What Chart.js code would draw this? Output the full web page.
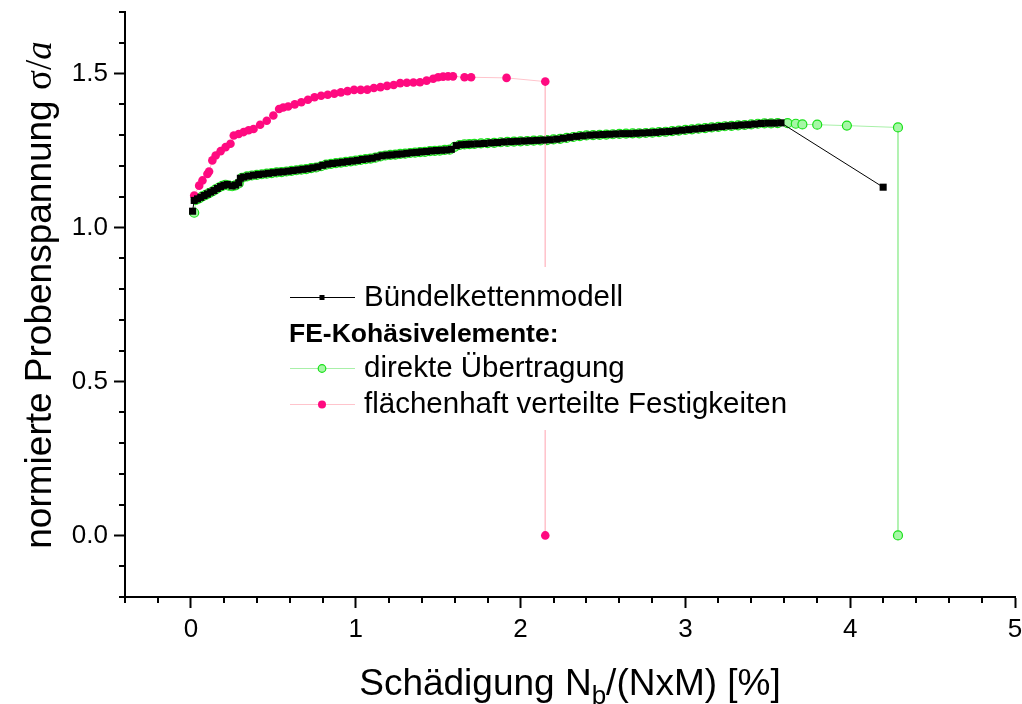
<!DOCTYPE html>
<html>
<head>
<meta charset="utf-8">
<style>
    body { margin: 0; background: #fff; }
    #wrap { width: 1022px; height: 704px; }
</style>
</head>
<body>
<div id="wrap"><canvas id="myChart" width="1022" height="704"></canvas></div>
<script src="https://cdn.jsdelivr.net/npm/chart.js"></script>
<script>
    // Bündelkettenmodell (black squares)
    const bundelX = [0.01, 0.02, 0.04, 0.06, 0.08, 0.10, 0.12, 0.14, 0.16, 0.18, 0.20, 0.22, 0.25, 0.27, 0.29, 0.30, 0.32, 0.35, 0.38, 0.41,
        0.44, 0.47, 0.50, 0.53, 0.56, 0.59, 0.62, 0.65, 0.68, 0.71, 0.74, 0.77, 0.80, 0.83, 0.86, 0.89, 0.92, 0.95, 0.98, 1.01,
        1.04, 1.07, 1.10, 1.13, 1.16, 1.19, 1.22, 1.25, 1.28, 1.31, 1.34, 1.37, 1.40, 1.43, 1.46, 1.49, 1.52, 1.55, 1.58, 1.61,
        1.64, 1.67, 1.70, 1.74, 1.78, 1.82, 1.86, 1.90, 1.94, 1.98, 2.02, 2.06, 2.10, 2.14, 2.18, 2.22, 2.26, 2.30, 2.34, 2.38,
        2.42, 2.46, 2.50, 2.54, 2.58, 2.62, 2.66, 2.70, 2.74, 2.78, 2.82, 2.86, 2.90, 2.94, 2.98, 3.02, 3.06, 3.10, 3.14, 3.18,
        3.22, 3.26, 3.30, 3.34, 3.38, 3.42, 3.46, 3.50, 3.54, 3.58, 4.20];
    const bundelY = [1.053, 1.088, 1.093, 1.098, 1.104, 1.109, 1.115, 1.120, 1.127, 1.133, 1.137, 1.140, 1.135, 1.138, 1.145, 1.160, 1.164, 1.167, 1.170, 1.172,
        1.174, 1.176, 1.178, 1.180, 1.181, 1.183, 1.185, 1.187, 1.189, 1.191, 1.194, 1.197, 1.202, 1.206, 1.208, 1.210, 1.212, 1.214, 1.216, 1.218,
        1.221, 1.223, 1.225, 1.229, 1.233, 1.235, 1.236, 1.238, 1.239, 1.241, 1.243, 1.244, 1.246, 1.247, 1.249, 1.250, 1.251, 1.252, 1.254, 1.266,
        1.269, 1.270, 1.271, 1.272, 1.273, 1.275, 1.276, 1.278, 1.279, 1.280, 1.281, 1.282, 1.283, 1.284, 1.285, 1.287, 1.290, 1.293, 1.296, 1.298,
        1.300, 1.301, 1.302, 1.303, 1.304, 1.305, 1.305, 1.306, 1.307, 1.308, 1.309, 1.311, 1.312, 1.314, 1.316, 1.318, 1.320, 1.322, 1.324, 1.326,
        1.328, 1.330, 1.331, 1.333, 1.334, 1.336, 1.338, 1.339, 1.339, 1.340, 1.131];

    // FE-Kohäsivelemente: direkte Übertragung (green circles)
    const direktX = [0.02, 0.03, 0.05, 0.07, 0.09, 0.11, 0.13, 0.15, 0.17, 0.19, 0.21, 0.23, 0.25, 0.27, 0.29, 0.31, 0.34, 0.37, 0.40, 0.43,
        0.46, 0.49, 0.52, 0.55, 0.58, 0.61, 0.64, 0.67, 0.70, 0.73, 0.76, 0.79, 0.82, 0.85, 0.88, 0.91, 0.94, 0.97, 1.00, 1.03,
        1.06, 1.09, 1.12, 1.15, 1.18, 1.21, 1.24, 1.27, 1.30, 1.33, 1.36, 1.39, 1.42, 1.45, 1.48, 1.51, 1.54, 1.57, 1.60, 1.63,
        1.66, 1.69, 1.72, 1.76, 1.80, 1.84, 1.88, 1.92, 1.96, 2.00, 2.04, 2.08, 2.12, 2.16, 2.20, 2.24, 2.28, 2.32, 2.36, 2.40,
        2.44, 2.48, 2.52, 2.56, 2.60, 2.64, 2.68, 2.72, 2.76, 2.80, 2.84, 2.88, 2.92, 2.96, 3.00, 3.04, 3.08, 3.12, 3.16, 3.20,
        3.24, 3.28, 3.32, 3.36, 3.40, 3.44, 3.48, 3.52, 3.56, 3.62, 3.67, 3.71, 3.80, 3.98, 4.29, 4.29];
    const direktY = [1.048, 1.090, 1.095, 1.101, 1.106, 1.112, 1.117, 1.124, 1.130, 1.135, 1.139, 1.136, 1.134, 1.137, 1.143, 1.161, 1.166, 1.169, 1.171, 1.173,
        1.175, 1.177, 1.179, 1.180, 1.182, 1.184, 1.186, 1.188, 1.190, 1.193, 1.195, 1.199, 1.204, 1.207, 1.209, 1.211, 1.213, 1.215, 1.217, 1.220,
        1.222, 1.224, 1.227, 1.231, 1.234, 1.236, 1.237, 1.239, 1.240, 1.242, 1.243, 1.245, 1.246, 1.248, 1.249, 1.250, 1.252, 1.253, 1.262, 1.268,
        1.270, 1.271, 1.272, 1.273, 1.274, 1.275, 1.277, 1.278, 1.279, 1.280, 1.281, 1.282, 1.283, 1.284, 1.286, 1.288, 1.291, 1.294, 1.297, 1.299,
        1.300, 1.301, 1.302, 1.303, 1.304, 1.305, 1.306, 1.306, 1.307, 1.308, 1.310, 1.311, 1.313, 1.315, 1.317, 1.319, 1.321, 1.323, 1.325, 1.327,
        1.329, 1.330, 1.332, 1.333, 1.335, 1.337, 1.338, 1.338, 1.339, 1.339, 1.337, 1.335, 1.334, 1.331, 1.325, 0.0];

    // FE-Kohäsivelemente: flächenhaft verteilte Festigkeiten (pink dots)
    const flaecheX = [0.02, 0.05, 0.07, 0.10, 0.11, 0.13, 0.15, 0.18, 0.21, 0.24, 0.26, 0.29, 0.32, 0.35, 0.38, 0.42, 0.46, 0.50, 0.535, 0.56,
        0.59, 0.63, 0.67, 0.71, 0.75, 0.79, 0.83, 0.87, 0.91, 0.95, 0.99, 1.03, 1.07, 1.11, 1.15, 1.19, 1.23, 1.27, 1.31, 1.35,
        1.39, 1.43, 1.47, 1.50, 1.53, 1.56, 1.59, 1.66, 1.70, 1.915, 2.15, 2.15];
    const flaecheY = [1.104, 1.136, 1.153, 1.174, 1.182, 1.218, 1.234, 1.248, 1.261, 1.272, 1.299, 1.304, 1.310, 1.316, 1.320, 1.334, 1.347, 1.364, 1.385, 1.390,
        1.393, 1.400, 1.407, 1.415, 1.423, 1.428, 1.431, 1.435, 1.439, 1.443, 1.447, 1.447, 1.448, 1.453, 1.456, 1.460, 1.463, 1.469, 1.470, 1.471,
        1.472, 1.477, 1.483, 1.488, 1.490, 1.491, 1.491, 1.488, 1.488, 1.486, 1.474, 0.0];

    const xTitle = ['Schädigung N', 'b', '/(NxM) [%]'];
    const yTitle = ['normierte Probenspannung ', 'σ/', 'a'];
    const legendItems = ['Bündelkettenmodell', 'FE-Kohäsivelemente:', 'direkte Übertragung', 'flächenhaft verteilte Festigkeiten'];

    const FONT = "'Liberation Sans', Arial, sans-serif";

    function pts(xs, ys) {
        return xs.map(function (x, i) { return {x: x, y: ys[i]}; });
    }
    function isInt(v) { return Math.abs(v - Math.round(v)) < 1e-6; }
    function isHalf(v) { return Math.abs(v * 2 - Math.round(v * 2)) < 1e-6; }

    const minorTicks = {
        id: 'minorTicks',
        afterDraw: function (chart) {
            const ctx = chart.ctx;
            const xs = chart.scales.x, ys = chart.scales.y;
            ctx.save();
            ctx.strokeStyle = '#000';
            ctx.lineWidth = 2;
            ctx.beginPath();
            xs.ticks.forEach(function (t) {
                if (isInt(t.value)) return;
                const p = Math.round(xs.getPixelForValue(t.value));
                ctx.moveTo(p, xs.top);
                ctx.lineTo(p, xs.top + 6);
            });
            ys.ticks.forEach(function (t) {
                if (isHalf(t.value)) return;
                const p = Math.round(ys.getPixelForValue(t.value));
                ctx.moveTo(ys.right, p);
                ctx.lineTo(ys.right - 6, p);
            });
            ctx.stroke();
            ctx.restore();
        }
    };

    const titles = {
        id: 'titles',
        afterDraw: function (chart) {
            const ctx = chart.ctx;
            ctx.save();
            ctx.fillStyle = '#000';
            ctx.textBaseline = 'alphabetic';
            // x title with subscript
            const big = '37px ' + FONT, small = '26px ' + FONT;
            ctx.font = big;
            const w1 = ctx.measureText(xTitle[0]).width;
            const w3 = ctx.measureText(xTitle[2]).width;
            ctx.font = small;
            const w2 = ctx.measureText(xTitle[1]).width;
            let x0 = 570 - (w1 + w2 + w3) / 2;
            const yb = 695;
            ctx.font = big;
            ctx.fillText(xTitle[0], x0, yb);
            ctx.font = small;
            ctx.fillText(xTitle[1], x0 + w1, yb + 9);
            ctx.font = big;
            ctx.fillText(xTitle[2], x0 + w1 + w2, yb);

            // y title, rotated
            const yb2 = '37px ' + FONT;
            const serN = "37px 'Liberation Serif', 'Times New Roman', serif";
            const serI = "italic 37px 'Liberation Serif', 'Times New Roman', serif";
            ctx.translate(51, 295);
            ctx.rotate(-Math.PI / 2);
            ctx.font = yb2;
            const a1 = ctx.measureText(yTitle[0]).width;
            ctx.font = serN;
            const a2 = ctx.measureText(yTitle[1]).width;
            ctx.font = serI;
            const a3 = ctx.measureText(yTitle[2]).width;
            let s = -(a1 + a2 + a3) / 2;
            ctx.font = yb2;
            ctx.fillText(yTitle[0], s, 0);
            ctx.font = serN;
            ctx.fillText(yTitle[1], s + a1, 0);
            ctx.font = serI;
            ctx.fillText(yTitle[2], s + a1 + a2, 0);
            ctx.restore();
        }
    };

    const boxLegend = {
        id: 'boxLegend',
        afterDatasetsDraw: function (chart) {
            const ctx = chart.ctx;
            ctx.save();
            ctx.fillStyle = '#fff';
            ctx.fillRect(283, 267, 505, 163);
            ctx.textBaseline = 'middle';
            ctx.fillStyle = '#000';

            function sample(y, lineCol, draw) {
                ctx.strokeStyle = lineCol;
                ctx.lineWidth = 1;
                ctx.beginPath();
                ctx.moveTo(290, y + 0.5);
                ctx.lineTo(355, y + 0.5);
                ctx.stroke();
                draw(322, y + 0.5);
            }
            sample(297, '#000', function (x, y) {
                ctx.fillStyle = '#000';
                ctx.fillRect(x - 2.5, y - 2.5, 5, 5);
            });
            sample(368, '#a8f0a8', function (x, y) {
                ctx.beginPath();
                ctx.arc(x, y, 3.8, 0, Math.PI * 2);
                ctx.fillStyle = '#a6f7a6';
                ctx.fill();
                ctx.strokeStyle = '#18e018';
                ctx.lineWidth = 1.2;
                ctx.stroke();
            });
            sample(404, '#ffc4cc', function (x, y) {
                ctx.beginPath();
                ctx.arc(x, y, 4, 0, Math.PI * 2);
                ctx.fillStyle = '#ff0a80';
                ctx.fill();
            });
            ctx.fillStyle = '#000';
            ctx.font = '29.5px ' + FONT;
            ctx.fillText(legendItems[0], 364, 298);
            ctx.fillText(legendItems[2], 364, 369);
            ctx.fillText(legendItems[3], 364, 405);
            ctx.font = 'bold 26.5px ' + FONT;
            ctx.fillText(legendItems[1], 289, 335);
            ctx.restore();
        }
    };

    const data = {
        datasets: [{
            label: legendItems[0],
            data: pts(bundelX, bundelY),
            showLine: true,
            borderColor: '#000',
            backgroundColor: '#000',
            borderWidth: 1,
            pointStyle: 'rect',
            pointRadius: 5,
            pointBorderWidth: 0,
            order: 0
        }, {
            label: legendItems[2],
            data: pts(direktX, direktY),
            showLine: true,
            borderColor: '#a8f0a8',
            pointBackgroundColor: '#a6f7a6',
            pointBorderColor: '#18e018',
            borderWidth: 1,
            pointRadius: 4.5,
            pointBorderWidth: 1.2,
            order: 2
        }, {
            label: legendItems[3],
            data: pts(flaecheX, flaecheY),
            showLine: true,
            borderColor: '#ffc4cc',
            pointBackgroundColor: '#ff0a80',
            pointBorderColor: '#ff0a80',
            borderWidth: 1,
            pointRadius: 4.3,
            pointBorderWidth: 0,
            order: 1
        }]
    };

    const config = {
        type: 'scatter',
        data: data,
        plugins: [boxLegend, minorTicks, titles],
        options: {
            responsive: false,
            animation: false,
            layout: { padding: { left: 0, top: 12, right: 7, bottom: 0 } },
            plugins: { legend: { display: false }, tooltip: { enabled: false } },
            scales: {
                x: {
                    type: 'linear',
                    min: -0.4,
                    max: 5,
                    afterFit: function (scale) {
                        scale.height = 107;
                        scale.paddingLeft = 0;
                        scale.paddingRight = 0;
                    },
                    border: { display: true, color: '#000', width: 2 },
                    grid: {
                        drawOnChartArea: false,
                        tickLength: 11,
                        tickWidth: 2,
                        tickColor: function (c) { return c.tick && isInt(c.tick.value) ? '#000' : 'rgba(0,0,0,0)'; }
                    },
                    ticks: {
                        stepSize: 0.2,
                        autoSkip: false,
                        maxRotation: 0,
                        padding: 6,
                        color: '#000',
                        font: { family: FONT, size: 26 },
                        callback: function (v) { return isInt(v) ? String(Math.round(v)) : ''; }
                    }
                },
                y: {
                    type: 'linear',
                    min: -0.2,
                    max: 1.7,
                    afterFit: function (scale) {
                        scale.width = 125;
                        scale.paddingTop = 0;
                        scale.paddingBottom = 0;
                    },
                    border: { display: true, color: '#000', width: 2 },
                    grid: {
                        drawOnChartArea: false,
                        tickLength: 11,
                        tickWidth: 2,
                        tickColor: function (c) { return c.tick && isHalf(c.tick.value) ? '#000' : 'rgba(0,0,0,0)'; }
                    },
                    ticks: {
                        stepSize: 0.1,
                        autoSkip: false,
                        padding: 6,
                        color: '#000',
                        font: { family: FONT, size: 26 },
                        callback: function (v) { return isHalf(v) ? Math.abs(v).toFixed(1) : ''; }
                    }
                }
            }
        }
    };

    new Chart(document.getElementById('myChart'), config);
</script>
</body>
</html>
